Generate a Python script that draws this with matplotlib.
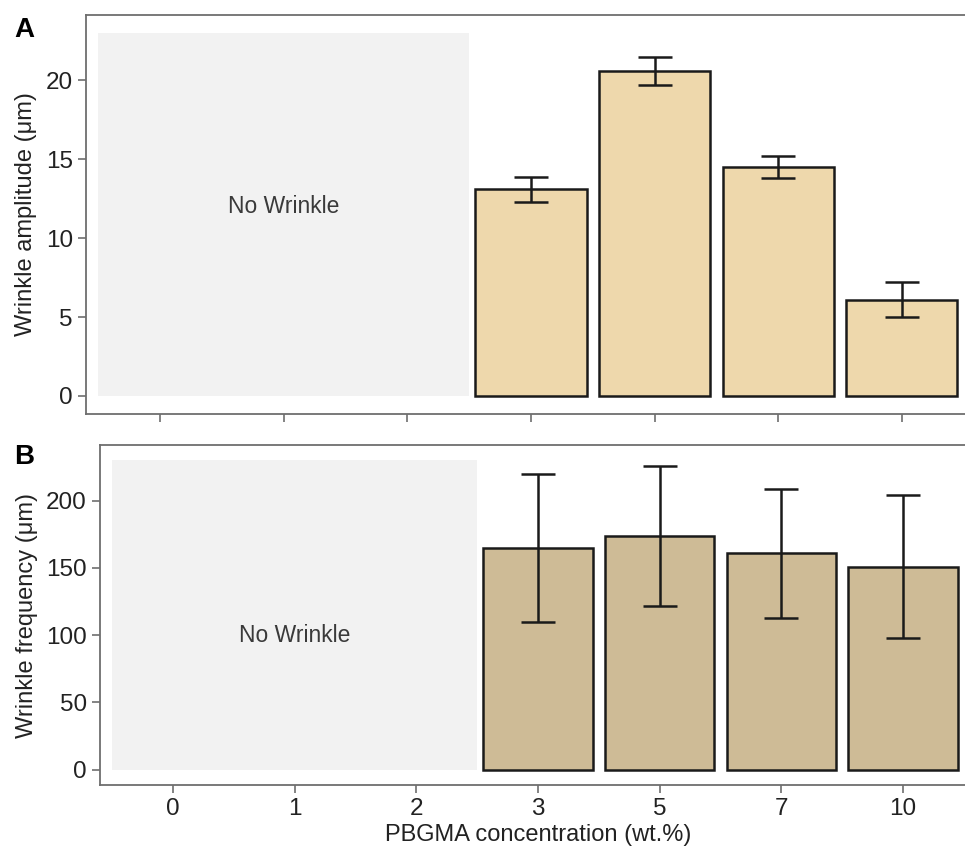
import matplotlib
matplotlib.use('Agg')
import matplotlib.pyplot as plt
from matplotlib.patches import Rectangle

plt.rcParams['font.family'] = ['Liberation Sans', 'DejaVu Sans']

# wrinkle data vs PBGMA concentration
conc = ['0', '1', '2', '3', '5', '7', '10']
wrinkle_conc = ['3', '5', '7', '10']
amp_mean = [13.1, 20.6, 14.5, 6.1]
amp_err = [0.8, 0.9, 0.7, 1.1]
freq_mean = [165, 174, 161, 151]
freq_err = [55, 52, 48, 53]

spine_col = '#6e6e6e'

fig = plt.figure(figsize=(9.65, 8.49), dpi=100)
ax1 = fig.add_axes([86/965, 435/849, 890/965, 399/849])
ax2 = fig.add_axes([100/965, 64/849, 876/965, 340/849])

pos = {c: i for i, c in enumerate(conc)}
xb = [pos[c] for c in wrinkle_conc]


def style(ax, ymax, text_y, ylabel, labels):
    # shaded block for concentrations with no wrinkles
    ax.add_patch(Rectangle((-0.5, 0), 3, ymax, facecolor='#f2f2f2', edgecolor='none', zorder=0))
    ax.text(1, text_y, 'No Wrinkle', ha='center', va='center', fontsize=16.5, color='#3a3a3a')
    ax.set_xlim(-0.6, 6.6)
    ax.set_ylim(-ymax * 0.05, ymax * 1.05)
    ax.set_xticks(range(len(conc)))
    if labels:
        ax.set_xticklabels(conc)
    else:
        ax.set_xticklabels([])
    for s in ax.spines.values():
        s.set_color(spine_col)
        s.set_linewidth(1.3)
    ax.tick_params(colors=spine_col, labelcolor='#222222', labelsize=17.5, length=6, width=1.2)
    ax.set_ylabel(ylabel, fontsize=17, color='#222222', labelpad=6)


style(ax1, 23, 12, 'Wrinkle amplitude (μm)', False)
ax1.bar(xb, amp_mean, width=0.9, color='#eed8ac', edgecolor='#1a1a1a', linewidth=1.8, zorder=2)
ax1.errorbar(xb, amp_mean, yerr=amp_err, fmt='none', ecolor='#1a1a1a', elinewidth=1.8, capsize=12.5, capthick=1.8, zorder=3)
ax1.set_yticks([0, 5, 10, 15, 20])

style(ax2, 230, 100, 'Wrinkle frequency (μm)', True)
ax2.bar(xb, freq_mean, width=0.9, color='#cebb96', edgecolor='#1a1a1a', linewidth=1.8, zorder=2)
ax2.errorbar(xb, freq_mean, yerr=freq_err, fmt='none', ecolor='#1a1a1a', elinewidth=1.8, capsize=12.5, capthick=1.8, zorder=3)
ax2.set_yticks([0, 50, 100, 150, 200])
ax2.set_xlabel('PBGMA concentration (wt.%)', fontsize=17, color='#222222', labelpad=3)

fig.text(14/965, 1 - 30/849, 'A', fontsize=20, fontweight='bold', va='center')
fig.text(14/965, 1 - 457/849, 'B', fontsize=20, fontweight='bold', va='center')

fig.savefig('out.png', dpi=100)
